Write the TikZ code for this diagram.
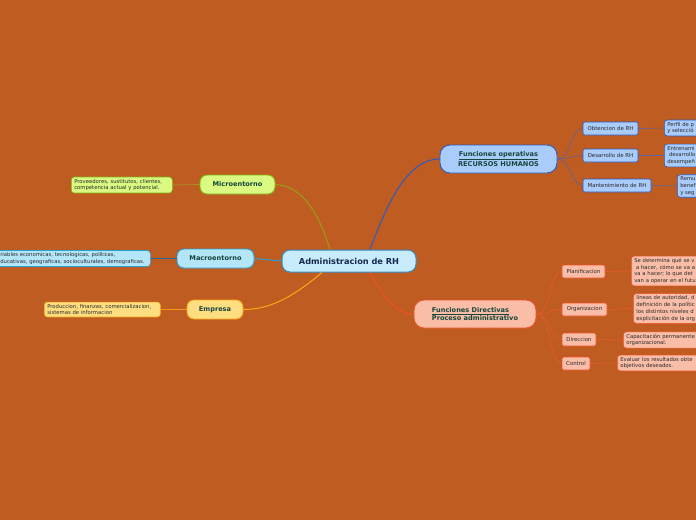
\documentclass[tikz,border=0pt]{standalone}
\usepackage{fontspec}
\setmainfont{DejaVu Sans}
\usepackage{xcolor}
\usepackage{tikz}
\definecolor{BgOrange}{RGB}{191,92,33}
\definecolor{RootFill}{RGB}{200,236,252}
\definecolor{RootLine}{RGB}{50,140,200}
\definecolor{RootText}{RGB}{20,40,80}
\definecolor{MicroFill}{RGB}{218,250,130}
\definecolor{MicroLine}{RGB}{130,180,20}
\definecolor{MicroLink}{RGB}{150,160,20}
\definecolor{MacroFill}{RGB}{180,230,250}
\definecolor{MacroLine}{RGB}{40,160,220}
\definecolor{EmpFill}{RGB}{255,222,130}
\definecolor{EmpLine}{RGB}{250,170,20}
\definecolor{OperFill}{RGB}{170,204,250}
\definecolor{OperLine}{RGB}{40,90,200}
\definecolor{OperLink}{RGB}{90,100,160}
\definecolor{DirFill}{RGB}{250,190,168}
\definecolor{DirLine}{RGB}{240,80,40}
\definecolor{DirLink}{RGB}{230,90,50}
\definecolor{TopicText}{RGB}{20,70,60}
\definecolor{SmallText}{RGB}{40,40,40}

\begin{document}
\begin{tikzpicture}[x=1pt,y=-1pt,
    topic/.style={rounded corners=7pt,line width=0.9pt,inner sep=2pt,
      text=TopicText,font=\fontsize{6.6}{8}\selectfont\bfseries},
    subbox/.style={rounded corners=2pt,line width=0.6pt,inner sep=2pt,
      minimum height=13pt,text=SmallText,font=\fontsize{5.4}{6.4}\selectfont},
    leafbox/.style={rounded corners=3pt,line width=0.6pt,inner xsep=3pt,
      inner ysep=2pt,align=left,anchor=west,text=SmallText,
      font=\fontsize{5.3}{6.8}\selectfont}]
  \useasboundingbox (0,0) rectangle (696,520);
  \fill[BgOrange] (0,0) rectangle (696,520);
  \clip (0,0) rectangle (696,520);

  % central topic
  \node[fill=RootFill,draw=RootLine,line width=1pt,rounded corners=8pt,
        minimum width=134pt,minimum height=22pt,text=RootText,
        font=\fontsize{8.2}{9}\selectfont\bfseries] (root) at (349,261)
        {Administracion de RH};

  % left side
  \node[topic,fill=MicroFill,draw=MicroLine,minimum width=75pt,
        minimum height=19pt] (micro) at (237.5,184.5) {Microentorno};
  \node[leafbox,fill=MicroFill,draw=MicroLine,text width=95pt] (microleaf)
        at (71,185) {Proveedores, sustitutos, clientes,\\competencia actual y potencial.};
  \node[topic,fill=MacroFill,draw=MacroLine,minimum width=77pt,
        minimum height=19pt] (macro) at (215.5,258.5) {Macroentorno};
  \node[leafbox,fill=MacroFill,draw=MacroLine,text width=147pt] (macroleaf)
        at (-3,258.5) {riables economicas, tecnologicas, politicas,\\ducativas, geograficas, socioculturales, demograficas.};
  \node[topic,fill=EmpFill,draw=EmpLine,minimum width=56pt,
        minimum height=19pt] (empresa) at (215,309.5) {Empresa};
  \node[leafbox,fill=EmpFill,draw=EmpLine,text width=110pt] (empleaf)
        at (44,309.5) {Produccion, finanzas, comercializacion,\\sistemas de informacion};

  % operative functions
  \node[topic,fill=OperFill,draw=OperLine,rounded corners=10pt,align=center,
        minimum width=117pt,minimum height=28pt] (oper) at (498.5,159)
        {\underline{Funciones operativas}\\RECURSOS HUMANOS};
  \node[subbox,fill=OperFill,draw=OperLine,minimum width=55pt] (obt)
        at (610.5,128.5) {Obtencion de RH};
  \node[subbox,fill=OperFill,draw=OperLine,minimum width=55pt] (des)
        at (610.5,155.5) {Desarrollo de RH};
  \node[subbox,fill=OperFill,draw=OperLine,minimum width=68pt] (man)
        at (617,185.5) {Mantenimiento de RH};
  \node[leafbox,fill=OperFill,draw=OperLine,text width=60pt] (perfil)
        at (664,128) {Perfil de p\\y selecció};
  \node[leafbox,fill=OperFill,draw=OperLine,text width=60pt] (entren)
        at (664,155.5) {Entrenami\\\ desarrollo\\desempeñ};
  \node[leafbox,fill=OperFill,draw=OperLine,text width=60pt] (remu)
        at (677,186) {Remu\\benef\\y seg};

  % directive functions
  \node[topic,fill=DirFill,draw=DirLine,rounded corners=10pt,align=left,
        minimum width=122pt,minimum height=28pt] (dir) at (475,314)
        {\underline{Funciones Directivas}\\Proceso administrativo};
  \node[subbox,fill=DirFill,draw=DirLine,minimum width=43pt] (plan)
        at (583.5,271.5) {Planificacion};
  \node[subbox,fill=DirFill,draw=DirLine,minimum width=45pt] (org)
        at (584.5,309.5) {Organizacion};
  \node[subbox,fill=DirFill,draw=DirLine,minimum width=34pt] (direc)
        at (579,339.5) {Direccion};
  \node[subbox,fill=DirFill,draw=DirLine,minimum width=28pt] (ctrl)
        at (576,363.5) {Control};
  \node[leafbox,fill=DirFill,draw=DirLine,text width=80pt] (planleaf)
        at (631,271) {Se determina qué se v\\\ a hacer, cómo se va a\\va a hacer; lo que det\\van a operar en el futu};
  \node[leafbox,fill=DirFill,draw=DirLine,text width=80pt] (orgleaf)
        at (633,308.5) {líneas de autoridad, d\\definición de la polític\\los distintos niveles d\\explicitación de la org};
  \node[leafbox,fill=DirFill,draw=DirLine,text width=80pt] (direcleaf)
        at (623,340) {Capacitación permanente\\organizacional.};
  \node[leafbox,fill=DirFill,draw=DirLine,text width=90pt] (ctrlleaf)
        at (617,363) {Evaluar los resultados obte\\objetivos deseados.};

  % connectors
  \draw[MicroLink,line width=1pt] ([xshift=-19pt]root.north)
    .. controls (318,210) and (300,185) .. (micro.east);
  \draw[MacroLine,line width=1pt] (root.west) -- (macro.east);
  \draw[EmpLine,line width=1pt] ([xshift=-27pt]root.south)
    .. controls (295,295) and (272,309.5) .. (empresa.east);
  \draw[OperLine,line width=1pt] ([xshift=21pt]root.north)
    .. controls (385,210) and (405,159) .. (oper.west);
  \draw[DirLine,line width=1pt] ([xshift=21pt]root.south)
    .. controls (385,300) and (398,314) .. (dir.west);
  \draw[MicroLink!70!brown,line width=0.7pt] (micro.west) -- (microleaf.east);
  \draw[MacroLine!70!black,line width=0.7pt] (macro.west) -- (macroleaf.east);
  \draw[EmpLine!85!red,line width=0.7pt] (empresa.west) -- (empleaf.east);
  \foreach \s in {obt,des,man}
    \draw[OperLink,line width=0.6pt] (oper.east)
      .. controls +(14,0) and +(-12,0) .. (\s.west);
  \foreach \s in {plan,org,direc,ctrl}
    \draw[DirLink,line width=0.6pt] (dir.east)
      .. controls +(14,0) and +(-12,0) .. (\s.west);
  \draw[OperLink,line width=0.6pt] (obt.east) -- (perfil.west);
  \draw[OperLink,line width=0.6pt] (des.east) -- (entren.west);
  \draw[OperLink,line width=0.6pt] (man.east) -- (remu.west);
  \draw[DirLink,line width=0.6pt] (plan.east) -- (planleaf.west);
  \draw[DirLink,line width=0.6pt] (org.east) -- (orgleaf.west);
  \draw[DirLink,line width=0.6pt] (direc.east) -- (direcleaf.west);
  \draw[DirLink,line width=0.6pt] (ctrl.east) -- (ctrlleaf.west);
\end{tikzpicture}
\end{document}
